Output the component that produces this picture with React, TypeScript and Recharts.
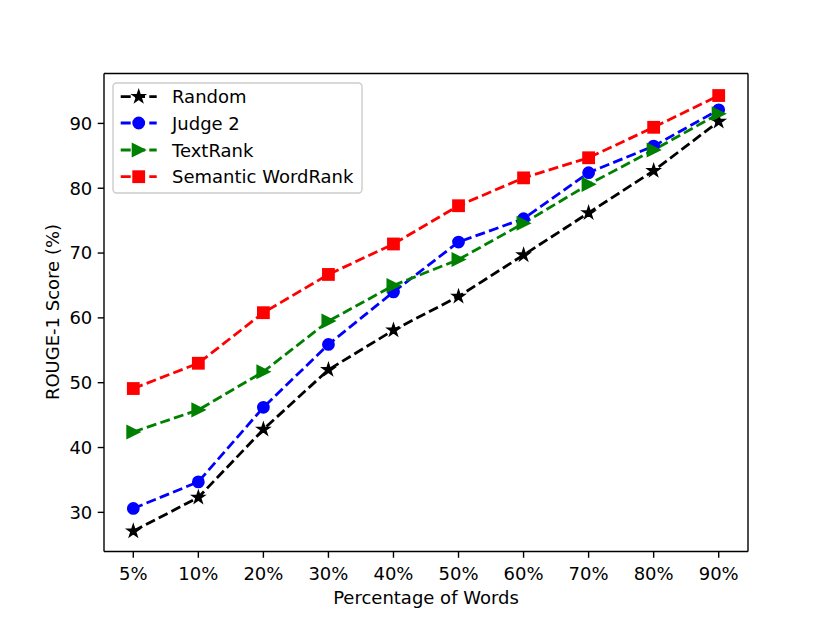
import React from 'react';
import { LineChart, Line, XAxis, YAxis } from 'recharts';

const categories = ['5%', '10%', '20%', '30%', '40%', '50%', '60%', '70%', '80%', '90%'];
const randomScores = [27.1, 32.3, 42.8, 52.0, 58.1, 63.3, 69.7, 76.2, 82.7, 90.3];
const judge2Scores = [30.6, 34.7, 46.2, 55.9, 64.0, 71.7, 75.3, 82.4, 86.5, 92.1];
const textRankScores = [42.4, 45.8, 51.7, 59.5, 65.0, 69.0, 74.6, 80.6, 85.9, 91.5];
const semanticScores = [49.1, 53.0, 60.8, 66.7, 71.4, 77.3, 81.6, 84.7, 89.4, 94.3];
const yTicks = [30, 40, 50, 60, 70, 80, 90];

const FONT = '"DejaVu Sans", sans-serif';
const MS = 5.5; // half marker size in px
const EDGE = 1.8;
const Y_DOMAIN: [number, number] = [23.96, 97.7];

type Shape = 'star' | 'circle' | 'triangle' | 'square';

const series: { key: string; name: string; color: string; shape: Shape }[] = [
  { key: 'random', name: 'Random', color: '#000000', shape: 'star' },
  { key: 'judge2', name: 'Judge 2', color: '#0000ff', shape: 'circle' },
  { key: 'textrank', name: 'TextRank', color: '#008000', shape: 'triangle' },
  { key: 'semantic', name: 'Semantic WordRank', color: '#ff0000', shape: 'square' },
];

const data = categories.map((c, i) => ({
  cat: c,
  random: randomScores[i],
  judge2: judge2Scores[i],
  textrank: textRankScores[i],
  semantic: semanticScores[i],
}));

function starPoints(cx: number, cy: number, r: number) {
  const inner = r * 0.381966;
  const pts: string[] = [];
  for (let i = 0; i < 10; i++) {
    const rad = i % 2 === 0 ? r : inner;
    const a = -Math.PI / 2 + (i * Math.PI) / 5;
    pts.push(`${cx + rad * Math.cos(a)},${cy + rad * Math.sin(a)}`);
  }
  return pts.join(' ');
}

function Marker({ cx, cy, shape, color }: { cx: number; cy: number; shape: Shape; color: string }) {
  const common = { fill: color, stroke: color, strokeWidth: EDGE, strokeLinejoin: 'miter' as const };
  if (shape === 'circle') return <circle cx={cx} cy={cy} r={MS} {...common} />;
  if (shape === 'square') return <rect x={cx - MS} y={cy - MS} width={2 * MS} height={2 * MS} {...common} />;
  if (shape === 'triangle') {
    const t = MS + 0.6;
    return <polygon points={`${cx + t},${cy} ${cx - t},${cy - t} ${cx - t},${cy + t}`} {...common} />;
  }
  return <polygon points={starPoints(cx, cy, MS + 0.4)} {...common} />;
}

const makeDot = (shape: Shape, color: string) => (props: any) => {
  const { cx, cy, index } = props;
  if (cx == null || cy == null) return <g key={`d-${index}`} />;
  return (
    <g key={`d-${shape}-${index}`}>
      <Marker cx={cx} cy={cy} shape={shape} color={color} />
    </g>
  );
};

function LegendBox() {
  const rowY = [96.7, 123, 150, 176.7];
  return (
    <svg width={830} height={622} style={{ position: 'absolute', left: 0, top: 0, pointerEvents: 'none' }}>
      <rect x={113} y={83} width={249} height={110} rx={3.5} ry={3.5} fill="#ffffff" fillOpacity={0.8} stroke="#cccccc" strokeWidth={1.4} />
      {series.map((s, i) => (
        <g key={s.key}>
          <line x1={120.7} x2={156.7} y1={rowY[i]} y2={rowY[i]} stroke={s.color} strokeWidth={2.8} strokeDasharray="10 4.3" />
          <Marker cx={138.7} cy={rowY[i]} shape={s.shape} color={s.color} />
          <text x={172} y={rowY[i] + 6.5} fontFamily={FONT} fontSize={18} fill="#000">
            {s.name}
          </text>
        </g>
      ))}
    </svg>
  );
}

export default function App() {
  const tickStyle = { fontFamily: FONT, fontSize: 18, fill: '#000' };
  const axisLine = { stroke: '#000', strokeWidth: 1.4 };
  return (
    <div style={{ position: 'absolute', left: 0, top: 0, width: 830, height: 622, background: '#fff', fontFamily: FONT }}>
      <LineChart width={830} height={622} data={data} margin={{ top: 72.5, right: 81, bottom: 0, left: 0 }}>
        <XAxis
          dataKey="cat"
          type="category"
          height={70.5}
          padding={{ left: 29.3, right: 29.3 }}
          tick={tickStyle}
          tickSize={6.3}
          tickMargin={9.5}
          axisLine={axisLine}
          tickLine={axisLine}
          interval={0}
          label={() => (
            <text x={426} y={604} textAnchor="middle" fontFamily={FONT} fontSize={18} fill="#000">
              Percentage of Words
            </text>
          )}
        />
        <XAxis
          xAxisId="top"
          dataKey="cat"
          type="category"
          orientation="top"
          height={1}
          padding={{ left: 29.3, right: 29.3 }}
          tick={false}
          tickLine={false}
          axisLine={axisLine}
        />
        <YAxis
          type="number"
          domain={Y_DOMAIN}
          ticks={yTicks}
          allowDataOverflow
          width={104}
          tick={tickStyle}
          tickSize={6.3}
          tickMargin={5.4}
          axisLine={axisLine}
          tickLine={axisLine}
          label={() => (
            <text x={58.5} y={312} transform="rotate(-90 58.5 312)" textAnchor="middle" fontFamily={FONT} fontSize={18} fill="#000">
              ROUGE-1 Score (%)
            </text>
          )}
        />
        <YAxis
          yAxisId="right"
          orientation="right"
          type="number"
          width={1}
          domain={Y_DOMAIN}
          allowDataOverflow
          tick={false}
          tickLine={false}
          axisLine={axisLine}
        />
        <Line
          xAxisId="top"
          yAxisId="right"
          dataKey="random"
          stroke="none"
          strokeOpacity={0}
          dot={false}
          activeDot={false}
          legendType="none"
          isAnimationActive={false}
        />
        {series.map((s) => (
          <Line
            key={s.key}
            type="linear"
            dataKey={s.key}
            name={s.name}
            stroke={s.color}
            strokeWidth={2.8}
            strokeDasharray="10 4.3"
            dot={makeDot(s.shape, s.color)}
            activeDot={false}
            isAnimationActive={false}
          />
        ))}
      </LineChart>
      <LegendBox />
    </div>
  );
}
